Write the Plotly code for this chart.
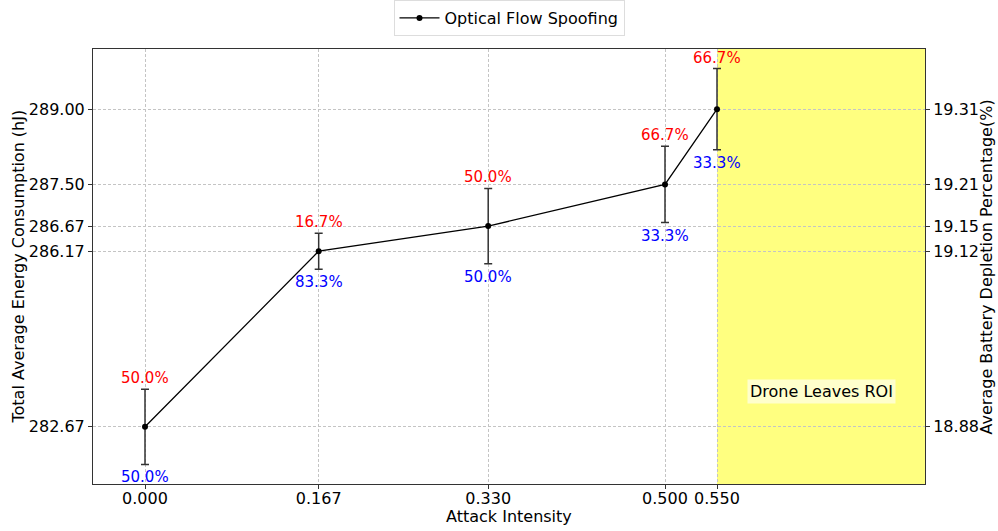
import plotly.graph_objects as go

# Attack intensity levels and measured energy consumption
intensity = [0.0, 0.167, 0.33, 0.5, 0.55]
intensity_labels = ["0.000", "0.167", "0.330", "0.500", "0.550"]
energy = [282.67, 286.17, 286.67, 287.50, 289.00]
energy_err = [0.75, 0.36, 0.75, 0.76, 0.81]
energy_labels = ["282.67", "286.17", "286.67", "287.50", "289.00"]
battery_labels = ["18.88", "19.12", "19.15", "19.21", "19.31"]

# Share of runs above / below the mean at each intensity
upper_pct = [50.0, 16.7, 50.0, 66.7, 66.7]
lower_pct = [50.0, 83.3, 50.0, 33.3, 33.3]

roi_start = 0.55
x_range = [-0.05, 0.75]
y_range = [281.53, 290.2]

FONT = "DejaVu Sans"

fig = go.Figure()

fig.add_trace(go.Scatter(
    x=intensity, y=energy,
    mode="lines+markers",
    name="Optical Flow Spoofing",
    line=dict(color="black", width=1.3),
    marker=dict(color="black", size=6),
    error_y=dict(type="data", array=energy_err, visible=True,
                 color="#333333", thickness=1.5, width=4),
))

# Invisible trace to carry the secondary (battery) axis
fig.add_trace(go.Scatter(
    x=intensity, y=energy, yaxis="y2", mode="markers",
    marker=dict(opacity=0), showlegend=False, hoverinfo="skip",
))

# Region after the drone leaves the region of interest
fig.add_shape(type="rect", xref="x", yref="paper",
              x0=roi_start, x1=x_range[1], y0=0, y1=1,
              fillcolor="rgb(255,255,128)", line=dict(width=0), layer="below")

fig.add_annotation(x=0.65, y=283.37, text="Drone Leaves ROI", showarrow=False,
                   font=dict(family=FONT, size=16, color="black"),
                   bgcolor="rgba(255,255,255,0.6)", borderpad=2)

for xi, yi, ei, up, lo in zip(intensity, energy, energy_err, upper_pct, lower_pct):
    fig.add_annotation(x=xi, y=yi + ei, text=f"{up:.1f}%", showarrow=False,
                       yanchor="bottom", yshift=0,
                       font=dict(family=FONT, size=15, color="red"))
    fig.add_annotation(x=xi, y=yi - ei, text=f"{lo:.1f}%", showarrow=False,
                       yanchor="top", yshift=-2,
                       font=dict(family=FONT, size=15, color="blue"))

# Axis titles placed as paper-anchored text
title_font = dict(family=FONT, size=16, color="black")
fig.add_annotation(xref="paper", yref="paper", x=0.5, y=-0.0736,
                   text="Attack Intensity", showarrow=False,
                   xanchor="center", yanchor="middle", font=title_font)
fig.add_annotation(xref="paper", yref="paper", x=-0.0901, y=0.5,
                   text="Total Average Energy Consumption (hJ)", showarrow=False,
                   textangle=-90, xanchor="center", yanchor="middle", font=title_font)
fig.add_annotation(xref="paper", yref="paper", x=1.0745, y=0.5,
                   text="Average Battery Depletion Percentage(%)", showarrow=False,
                   textangle=-90, xanchor="center", yanchor="middle", font=title_font)

grid = dict(showgrid=True, gridcolor="#c4c4c4", griddash="3px,2px", gridwidth=1)

fig.update_layout(
    width=998, height=531,
    margin=dict(l=93, r=73, t=49, b=47, autoexpand=False),
    plot_bgcolor="white", paper_bgcolor="white",
    font=dict(family=FONT, size=16, color="black"),
    showlegend=True,
    legend=dict(x=0.5, y=1.0, xref="paper", yref="container",
                xanchor="center", yanchor="top",
                orientation="h", itemwidth=40,
                bordercolor="#dddddd", borderwidth=1,
                font=dict(family=FONT, size=16)),
    xaxis=dict(range=x_range, tickvals=intensity, ticktext=intensity_labels,
               automargin=False, ticklabelstandoff=-4,
               showline=True, linecolor="#333333", mirror=True, linewidth=1,
               ticks="outside", ticklen=4, tickcolor="#333333", zeroline=False,
               tickfont=dict(size=16), **grid),
    yaxis=dict(range=y_range, tickvals=energy, ticktext=energy_labels,
               automargin=False,
               showline=True, linecolor="#333333", mirror=True, linewidth=1,
               ticks="outside", ticklen=4, tickcolor="#333333", zeroline=False,
               tickfont=dict(size=16), **grid),
    yaxis2=dict(range=y_range, tickvals=energy, ticktext=battery_labels,
                overlaying="y", side="right", showgrid=False, zeroline=False,
                automargin=False,
                ticks="outside", ticklen=4, tickcolor="#333333",
                tickfont=dict(size=16)),
)

fig.write_html("out.html")
